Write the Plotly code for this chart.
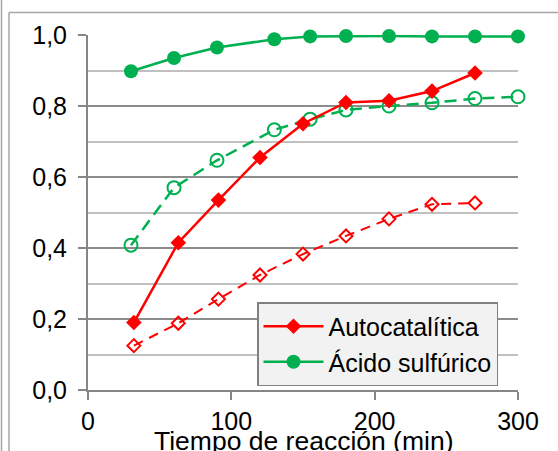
import plotly.graph_objects as go

# ---- data ----
t_auto = [32, 63, 91, 120, 150, 180, 210, 240, 270]
auto_solid = [0.19, 0.415, 0.535, 0.655, 0.75, 0.81, 0.815, 0.842, 0.893]
auto_open = [0.125, 0.188, 0.256, 0.324, 0.383, 0.434, 0.482, 0.523, 0.527]

t_acid = [30, 60, 90, 130, 155, 180, 210, 240, 270, 300]
acid_solid = [0.898, 0.935, 0.965, 0.988, 0.996, 0.997, 0.997, 0.996, 0.996, 0.996]
acid_open = [0.408, 0.570, 0.647, 0.733, 0.763, 0.789, 0.800, 0.809, 0.821, 0.826]

x_ticks = [0, 100, 200, 300]
y_ticks = [0.0, 0.2, 0.4, 0.6, 0.8, 1.0]
x_title = "Tiempo de reacción (min)"

RED = "#FF0000"
GREEN = "#00B050"
FONT = "Liberation Sans, Arial, sans-serif"
FS = 25

W, H = 558, 451
L, R, T, B = 88, 40, 35, 61
PW, PH = W - L - R, H - T - B

fig = go.Figure()

fig.add_trace(go.Scatter(
    x=t_auto, y=auto_open, mode="lines+markers", showlegend=False,
    line=dict(color=RED, width=2, dash="10px,7px"),
    marker=dict(symbol="diamond-open", size=10, color=RED, line=dict(width=2, color=RED)),
    cliponaxis=False))
fig.add_trace(go.Scatter(
    x=t_acid, y=acid_open, mode="lines+markers", showlegend=False,
    line=dict(color=GREEN, width=2.5, dash="12px,7px"),
    marker=dict(symbol="circle-open", size=13, color=GREEN, line=dict(width=2, color=GREEN)),
    cliponaxis=False))
fig.add_trace(go.Scatter(
    x=t_auto, y=auto_solid, mode="lines+markers", name="Autocatalítica",
    line=dict(color=RED, width=2.5),
    marker=dict(symbol="diamond", size=12, color=RED),
    cliponaxis=False))
fig.add_trace(go.Scatter(
    x=t_acid, y=acid_solid, mode="lines+markers", name="Ácido sulfúrico",
    line=dict(color=GREEN, width=2.5),
    marker=dict(symbol="circle", size=14, color=GREEN),
    cliponaxis=False))


def px_x(p):
    return (p - L) / PW


def px_y(p):
    return (H - B - p) / PH


shapes = [
    dict(type="line", xref="paper", yref="paper", x0=px_x(1.5), x1=px_x(1.5), y0=px_y(0), y1=px_y(H),
         line=dict(color="#a6a6a6", width=1.5)),
    dict(type="line", xref="paper", yref="paper", x0=px_x(9), x1=px_x(9), y0=px_y(12.5), y1=px_y(H),
         line=dict(color="#a6a6a6", width=1.5)),
    dict(type="line", xref="paper", yref="paper", x0=px_x(9), x1=px_x(W), y0=px_y(12.5), y1=px_y(12.5),
         line=dict(color="#a6a6a6", width=1.5)),
]

annotations = [
    dict(text=x_title, xref="paper", yref="paper", x=0.5, xanchor="center",
         y=px_y(424), yanchor="top", showarrow=False,
         font=dict(family=FONT, size=26.5, color="black")),
]

fig.update_layout(
    width=W, height=H,
    margin=dict(l=L, r=R, t=T, b=B, pad=0, autoexpand=False),
    paper_bgcolor="white", plot_bgcolor="white",
    font=dict(family=FONT, size=FS, color="black"),
    separators=",.",
    shapes=shapes,
    annotations=annotations,
    legend=dict(
        x=px_x(257), xanchor="left", y=px_y(302), yanchor="top",
        bgcolor="#f2f2f2", bordercolor="#808080", borderwidth=1.5,
        font=dict(family=FONT, size=FS, color="black"),
        tracegroupgap=0, itemsizing="trace", itemwidth=60,
    ),
    xaxis=dict(
        range=[0, 300], tickvals=x_ticks, ticktext=[str(v) for v in x_ticks],
        showgrid=False, zeroline=False, showline=True, linecolor="#868686", linewidth=2,
        ticks="outside", ticklen=8, tickwidth=2, tickcolor="#868686",
        tickfont=dict(size=FS), automargin=False,
    ),
    yaxis=dict(
        range=[0, 1.0], tickvals=y_ticks, tickformat=".1f",
        showgrid=True, gridcolor="#8c8c8c", gridwidth=2,
        zeroline=False, showline=True, linecolor="#868686", linewidth=2,
        ticks="outside", ticklen=8, tickwidth=2, tickcolor="#868686",
        minor=dict(dtick=0.1, tick0=0, showgrid=True, gridcolor="#c0c0c0", gridwidth=2, ticks=""),
        tickfont=dict(size=FS), ticklabelstandoff=6, automargin=False,
    ),
)

fig.write_html("out.html")
